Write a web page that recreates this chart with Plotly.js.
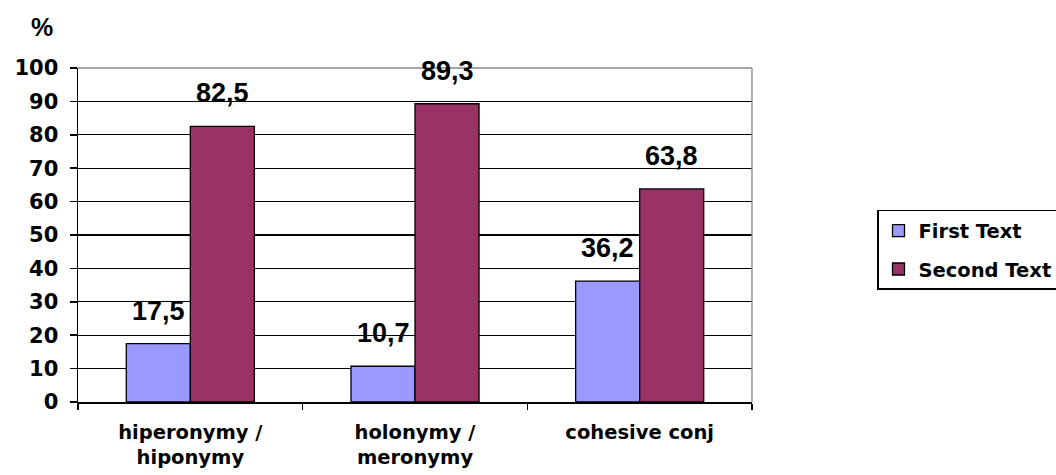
<!DOCTYPE html>
<html>
<head>
<meta charset="utf-8">
<script src="https://cdn.plot.ly/plotly-3.0.1.min.js"></script>
<style>
html,body{margin:0;padding:0;background:#fff;}
#chart{width:1056px;height:475px;}
</style>
</head>
<body>
<div id="chart"></div>
<script>
const categories = ["hiperonymy /<br>hiponymy", "holonymy /<br>meronymy", "cohesive conj"];
const firstText = [17.5, 10.7, 36.2];
const secondText = [82.5, 89.3, 63.8];
const seriesNames = ["First Text", "Second Text"];
const yTicks = [0,10,20,30,40,50,60,70,80,90,100];

const fmt = v => v.toFixed(1).replace('.', ',');
const bold = s => s.split('<br>').map(p => '<b>' + p + '</b>').join('<br>');
const FONT = "Liberation Sans, Arial, sans-serif";
const WIDE = "DejaVu Sans, Verdana, sans-serif";

const traces = [
  {type:'bar', name:bold(seriesNames[0]), legendgroup:'a', x:categories, y:firstText,
   marker:{color:'#9999FF', line:{color:'#000', width:1.3}}},
  {type:'bar', name:bold(seriesNames[1]), legendgroup:'b', x:categories, y:secondText,
   marker:{color:'#993366', line:{color:'#000', width:1.3}}}
];

const annotations = [];
[[firstText,-32],[secondText,32]].forEach(([arr,shift]) => {
  arr.forEach((v,i) => annotations.push({
    x: categories[i], y: v, xref:'x', yref:'y', xshift: shift, yshift: 16,
    yanchor:'bottom', showarrow:false, text:bold(fmt(v)),
    font:{family:FONT, size:27, color:'#000'}
  }));
});
annotations.push({xref:'paper', yref:'paper', x:-0.0534, y:1.123, xanchor:'center', yanchor:'middle',
  showarrow:false, text:'<b>%</b>', font:{family:FONT, size:25, color:'#000'}});

const layout = {
  width:1056, height:475,
  margin:{l:78, r:304, t:68, b:73, autoexpand:false},
  paper_bgcolor:'#fff', plot_bgcolor:'#fff',
  barmode:'group', bargap:0.43, bargroupgap:0,
  showlegend:true,
  legend:{xref:'container', yref:'container', x:0.8305, y:0.558, xanchor:'left', yanchor:'top',
    bordercolor:'#000', borderwidth:1.5,
    traceorder:'grouped', tracegroupgap:10,
    font:{family:WIDE, size:19.5, color:'#000'}, bgcolor:'#fff'},
  xaxis:{type:'category', tickson:'boundaries', ticks:'outside', ticklen:6, tickcolor:'#000', tickwidth:1.5,
    tickvals:categories, ticktext:categories.map(bold),
    showline:true, linecolor:'#000', linewidth:1.5, showgrid:false, ticklabelstandoff:12,
    tickfont:{family:WIDE, size:19.5, color:'#000'}, fixedrange:true},
  yaxis:{range:[0,100], tickvals:yTicks, ticktext:yTicks.map(v => bold(String(v))),
    ticks:'outside', ticklen:7, tickcolor:'#000', tickwidth:1.5,
    showline:true, linecolor:'#000', linewidth:1.5, showgrid:true, gridcolor:'#000', gridwidth:1.3,
    zeroline:false, ticklabelstandoff:7, tickfont:{family:WIDE, size:21, color:'#000'}, fixedrange:true},
  annotations: annotations,
  shapes:[
    {type:'line', xref:'paper', yref:'paper', x0:0, x1:1, y0:1, y1:1, line:{color:'#888', width:1.3}, layer:'above'},
    {type:'line', xref:'paper', yref:'paper', x0:1, x1:1, y0:0, y1:1, line:{color:'#888', width:1.3}, layer:'above'}
  ]
};
Plotly.newPlot('chart', traces, layout, {displayModeBar:false, staticPlot:true});
</script>
</body>
</html>
